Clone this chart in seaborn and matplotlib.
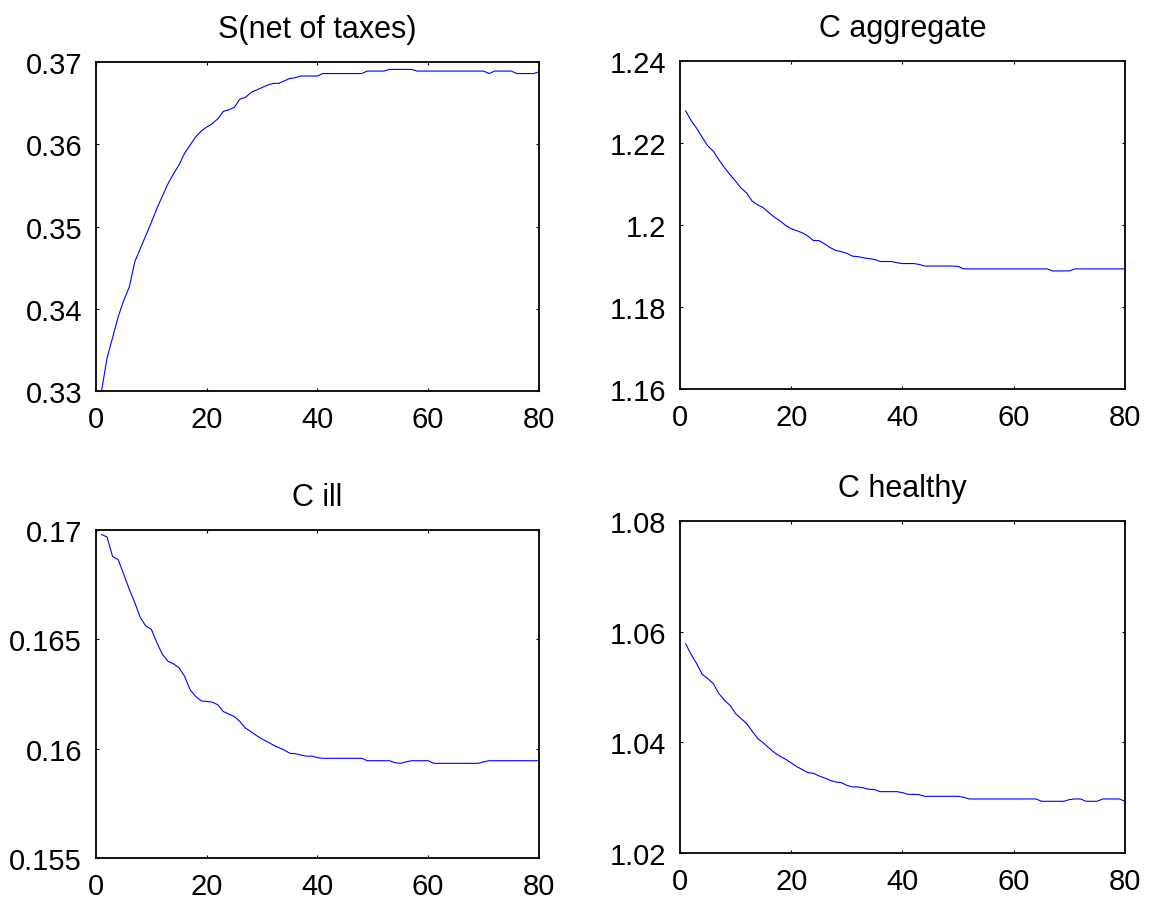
import numpy as np
import pandas as pd
import matplotlib
matplotlib.use("Agg")
import matplotlib.pyplot as plt
import seaborn as sns
from matplotlib.ticker import FuncFormatter

# ======================================================
# DATA (periods 1..80)
# ======================================================
periods = list(range(1, 81))

s_net_of_taxes = [
    0.3300, 0.3340, 0.3365, 0.3390, 0.3410, 0.3426, 0.3457, 0.3473, 0.3489, 0.3505,
    0.3522, 0.3537, 0.3552, 0.3564, 0.3575, 0.3589, 0.3599, 0.3609, 0.3616, 0.3621,
    0.3625, 0.3631, 0.3640, 0.3642, 0.3645, 0.3655, 0.3657, 0.3663, 0.3666, 0.3669,
    0.3672, 0.3674, 0.3674, 0.3677, 0.3680, 0.3681, 0.3683, 0.3683, 0.3683, 0.3683,
    0.3686, 0.3686, 0.3686, 0.3686, 0.3686, 0.3686, 0.3686, 0.3686, 0.3689, 0.3689,
    0.3689, 0.3689, 0.3691, 0.3691, 0.3691, 0.3691, 0.3691, 0.3689, 0.3689, 0.3689,
    0.3689, 0.3689, 0.3689, 0.3689, 0.3689, 0.3689, 0.3689, 0.3689, 0.3689, 0.3689,
    0.3686, 0.3689, 0.3689, 0.3689, 0.3689, 0.3686, 0.3686, 0.3686, 0.3686, 0.3688,
]

c_aggregate = [
    1.2279, 1.2255, 1.2236, 1.2214, 1.2193, 1.2180, 1.2159, 1.2140, 1.2123, 1.2107,
    1.2090, 1.2078, 1.2058, 1.2049, 1.2042, 1.2030, 1.2019, 1.2010, 1.1999, 1.1991,
    1.1986, 1.1981, 1.1973, 1.1962, 1.1962, 1.1954, 1.1945, 1.1938, 1.1935, 1.1931,
    1.1924, 1.1923, 1.1920, 1.1918, 1.1916, 1.1911, 1.1911, 1.1911, 1.1908, 1.1906,
    1.1906, 1.1906, 1.1904, 1.1900, 1.1900, 1.1900, 1.1900, 1.1900, 1.1900, 1.1899,
    1.1893, 1.1893, 1.1893, 1.1893, 1.1893, 1.1893, 1.1893, 1.1893, 1.1893, 1.1893,
    1.1893, 1.1893, 1.1893, 1.1893, 1.1893, 1.1893, 1.1888, 1.1888, 1.1888, 1.1888,
    1.1893, 1.1893, 1.1893, 1.1893, 1.1893, 1.1893, 1.1893, 1.1893, 1.1893, 1.1893,
]

c_ill = [
    0.16980, 0.16968, 0.16879, 0.16865, 0.16799, 0.16730, 0.16669, 0.16600, 0.16561, 0.16546,
    0.16485, 0.16431, 0.16400, 0.16388, 0.16370, 0.16331, 0.16270, 0.16239, 0.16219, 0.16216,
    0.16213, 0.16201, 0.16170, 0.16158, 0.16147, 0.16124, 0.16094, 0.16078, 0.16060, 0.16044,
    0.16031, 0.16017, 0.16005, 0.15994, 0.15979, 0.15977, 0.15971, 0.15966, 0.15966, 0.15959,
    0.15956, 0.15956, 0.15956, 0.15956, 0.15956, 0.15956, 0.15956, 0.15956, 0.15945, 0.15945,
    0.15945, 0.15945, 0.15945, 0.15936, 0.15933, 0.15940, 0.15945, 0.15945, 0.15945, 0.15945,
    0.15933, 0.15933, 0.15933, 0.15933, 0.15933, 0.15933, 0.15933, 0.15933, 0.15933, 0.15940,
    0.15945, 0.15945, 0.15945, 0.15945, 0.15945, 0.15945, 0.15945, 0.15945, 0.15945, 0.15945,
]

c_healthy = [
    1.05783, 1.05590, 1.05422, 1.05229, 1.05151, 1.05060, 1.04879, 1.04759, 1.04669, 1.04518,
    1.04428, 1.04337, 1.04199, 1.04066, 1.03988, 1.03898, 1.03813, 1.03747, 1.03693, 1.03627,
    1.03560, 1.03506, 1.03452, 1.03440, 1.03392, 1.03355, 1.03313, 1.03283, 1.03271, 1.03223,
    1.03193, 1.03193, 1.03175, 1.03151, 1.03145, 1.03108, 1.03108, 1.03108, 1.03108, 1.03090,
    1.03060, 1.03060, 1.03054, 1.03024, 1.03024, 1.03024, 1.03024, 1.03024, 1.03024, 1.03024,
    1.03006, 1.02976, 1.02976, 1.02976, 1.02976, 1.02976, 1.02976, 1.02976, 1.02976, 1.02976,
    1.02976, 1.02976, 1.02976, 1.02976, 1.02934, 1.02934, 1.02934, 1.02934, 1.02934, 1.02964,
    1.02976, 1.02976, 1.02934, 1.02934, 1.02934, 1.02976, 1.02976, 1.02976, 1.02976, 1.02934,
]

titles = ["S(net of taxes)", "C aggregate", "C ill", "C healthy"]
series = [s_net_of_taxes, c_aggregate, c_ill, c_healthy]
y_limits = [(0.33, 0.37), (1.16, 1.24), (0.155, 0.17), (1.02, 1.08)]
y_ticks = [
    [0.33, 0.34, 0.35, 0.36, 0.37],
    [1.16, 1.18, 1.20, 1.22, 1.24],
    [0.155, 0.16, 0.165, 0.17],
    [1.02, 1.04, 1.06, 1.08],
]
x_ticks = [0, 20, 40, 60, 80]

# ======================================================
# STYLE
# ======================================================
sns.set_style("ticks")
plt.rcParams["font.family"] = ["Liberation Sans", "DejaVu Sans"]
plt.rcParams["axes.linewidth"] = 1.3
plt.rcParams["text.color"] = "black"
plt.rcParams["axes.labelcolor"] = "black"
plt.rcParams["xtick.color"] = "black"
plt.rcParams["ytick.color"] = "black"
plt.rcParams["axes.edgecolor"] = "black"

# axes boxes in figure fractions (MATLAB subplot layout)
positions = [
    [0.0831, 0.5659, 0.3835, 0.3643],
    [0.5887, 0.5681, 0.3853, 0.3632],
    [0.0831, 0.0487, 0.3835, 0.3632],
    [0.5887, 0.0543, 0.3853, 0.3677],
]

fig = plt.figure(figsize=(11.55, 9.03), dpi=100)

for title, vals, ylim, yt, pos in zip(titles, series, y_limits, y_ticks, positions):
    ax = fig.add_axes(pos)
    df = pd.DataFrame({"t": periods, "v": vals})
    sns.lineplot(data=df, x="t", y="v", ax=ax, color="#0000ff", linewidth=0.8)
    ax.set_xlim(0, 80)
    ax.set_ylim(*ylim)
    ax.set_xticks(x_ticks)
    ax.set_yticks(yt)
    ax.yaxis.set_major_formatter(FuncFormatter(lambda v, _: f"{v:g}"))
    ax.set_xlabel("")
    ax.set_ylabel("")
    ax.set_title(title, fontsize=22, pad=18, color="black")
    ax.tick_params(direction="in", length=2.5, width=0.8, labelsize=21,
                   top=True, right=True, pad=10, colors="black")
    ax.tick_params(axis="x", pad=10)
    for sp in ax.spines.values():
        sp.set_visible(True)
        sp.set_color("black")

fig.savefig("out.png", dpi=100, facecolor="white")
